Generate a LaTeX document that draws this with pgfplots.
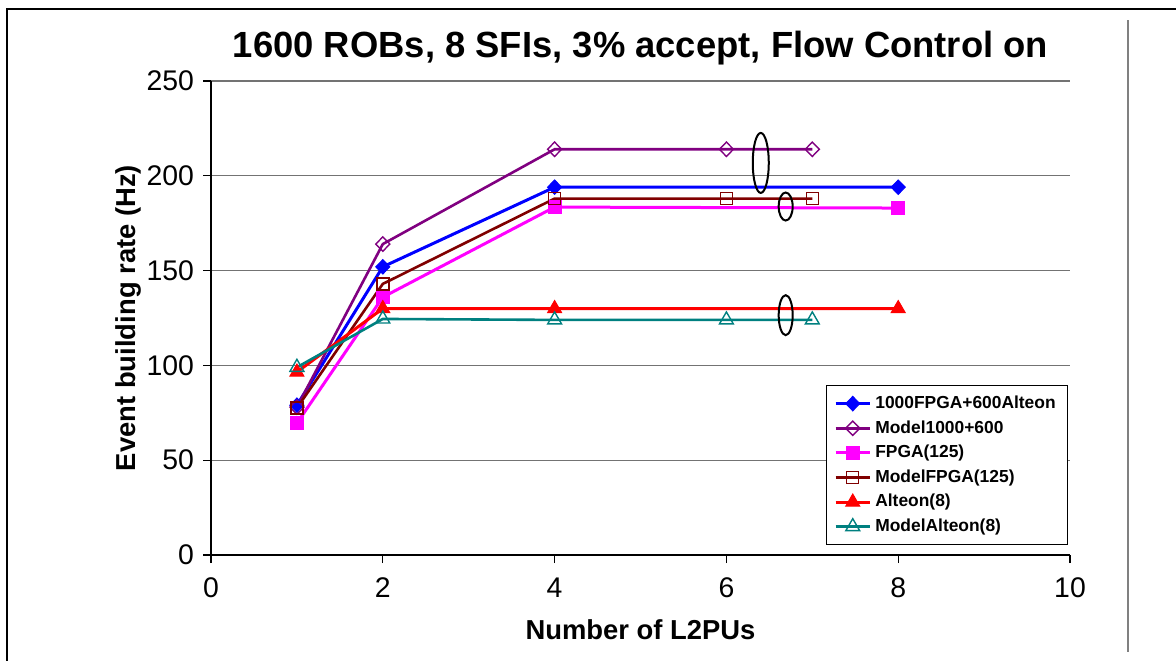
\documentclass[border=0pt]{standalone}
\usepackage{pgfplots}
\pgfplotsset{compat=1.18}
\usepackage{fontspec}
\setmainfont{Liberation Sans}
\definecolor{cBlue}{RGB}{0,0,255}
\definecolor{cPurple}{RGB}{128,0,128}
\definecolor{cMag}{RGB}{255,0,255}
\definecolor{cDRed}{RGB}{128,0,0}
\definecolor{cRed}{RGB}{255,0,0}
\definecolor{cTeal}{RGB}{0,128,128}
\begin{document}
\begin{tikzpicture}
\path[use as bounding box] (0,0) rectangle (588pt,-330pt);
\draw[line width=1pt] (3.5pt,-340pt) -- (3.5pt,-4.5pt) -- (600pt,-4.5pt);
\draw[gray, line width=0.6pt] (564pt,-10pt) -- (564pt,-326pt);
\begin{axis}[
  at={(105.5pt,-277.5pt)}, anchor=south west,
  scale only axis, width=429.5pt, height=237pt,
  xmin=0, xmax=10, ymin=0, ymax=250,
  xtick={0,2,4,6,8,10}, ytick={0,50,100,150,200,250},
  axis x line*=bottom, axis y line*=left,
  axis line style={line width=0.6pt},
  tick align=outside, major tick length=4pt,
  tick style={black, line width=0.6pt},
  ymajorgrids, major grid style={line width=0.6pt, color=black!55},
  /pgf/number format/assume math mode=true,
  ticklabel style={font=\fontsize{14.2}{16}\selectfont},
  xticklabel style={yshift=-4pt},
  yticklabel style={xshift=-1pt},
  title={1600 ROBs, 8 SFIs, 3\% accept, Flow Control on},
  title style={font=\fontsize{18.2}{21}\selectfont\bfseries, at={(axis description cs:0.5,1.044)}, anchor=center},
  xlabel={Number of L2PUs},
  ylabel={Event building rate (Hz)},
  xlabel style={font=\fontsize{13.7}{16}\selectfont\bfseries, at={(axis description cs:0.5,-0.158)}, anchor=center},
  ylabel style={font=\fontsize{13.7}{16}\selectfont\bfseries, at={(axis description cs:-0.0966,0.5)}, anchor=center},
  legend style={at={(rel axis cs:0.998,0.021)}, anchor=south east, draw=black, line width=0.6pt, fill=white,
    font=\fontsize{8.7}{10}\selectfont\bfseries, row sep=0.5pt, inner xsep=4pt, inner ysep=3pt},
  legend cell align=left,
]
\addplot[cBlue, line width=1.5pt, mark=diamond*, mark size=3.6pt, mark options={solid, fill=cBlue, line width=0.5pt, xscale=1.3}]
  coordinates {(1,79) (2,152) (4,194) (8,194)};
\addlegendentry{1000FPGA+600Alteon}
\addplot[cPurple, line width=1.3pt, mark=diamond, mark size=3.6pt, mark options={solid, line width=0.7pt, fill=white, xscale=1.3}]
  coordinates {(1,78) (2,164) (4,214) (6,214) (7,214)};
\addlegendentry{Model1000+600}
\addplot[cMag, line width=1.5pt, mark=square*, mark size=3.3pt, mark options={solid, fill=cMag, line width=0.5pt}]
  coordinates {(1,69.5) (2,136) (4,183.5) (8,183)};
\addlegendentry{FPGA(125)}
\addplot[cDRed, line width=1.3pt, mark=square, mark size=3pt, mark options={solid, line width=0.7pt}]
  coordinates {(1,77.5) (2,143) (4,188) (6,188) (7,188)};
\addlegendentry{ModelFPGA(125)}
\addplot[cRed, line width=1.5pt, mark=triangle*, mark size=4pt, mark options={solid, fill=cRed, line width=0.5pt}]
  coordinates {(1,96.5) (2,130) (4,130) (8,130)};
\addlegendentry{Alteon(8)}
\addplot[cTeal, line width=1.3pt, mark=triangle, mark size=4pt, mark options={solid, line width=0.7pt, fill=white}]
  coordinates {(1,99) (2,124.5) (4,124) (6,124) (7,124)};
\addlegendentry{ModelAlteon(8)}
\draw[black, line width=1pt] (axis cs:6.40,206.8) ellipse [x radius=4pt, y radius=15pt];
\draw[black, line width=1pt] (axis cs:6.69,183.8) ellipse [x radius=3.5pt, y radius=7pt];
\draw[black, line width=1pt] (axis cs:6.69,126.5) ellipse [x radius=3.5pt, y radius=10pt];
\end{axis}
\end{tikzpicture}
\end{document}
